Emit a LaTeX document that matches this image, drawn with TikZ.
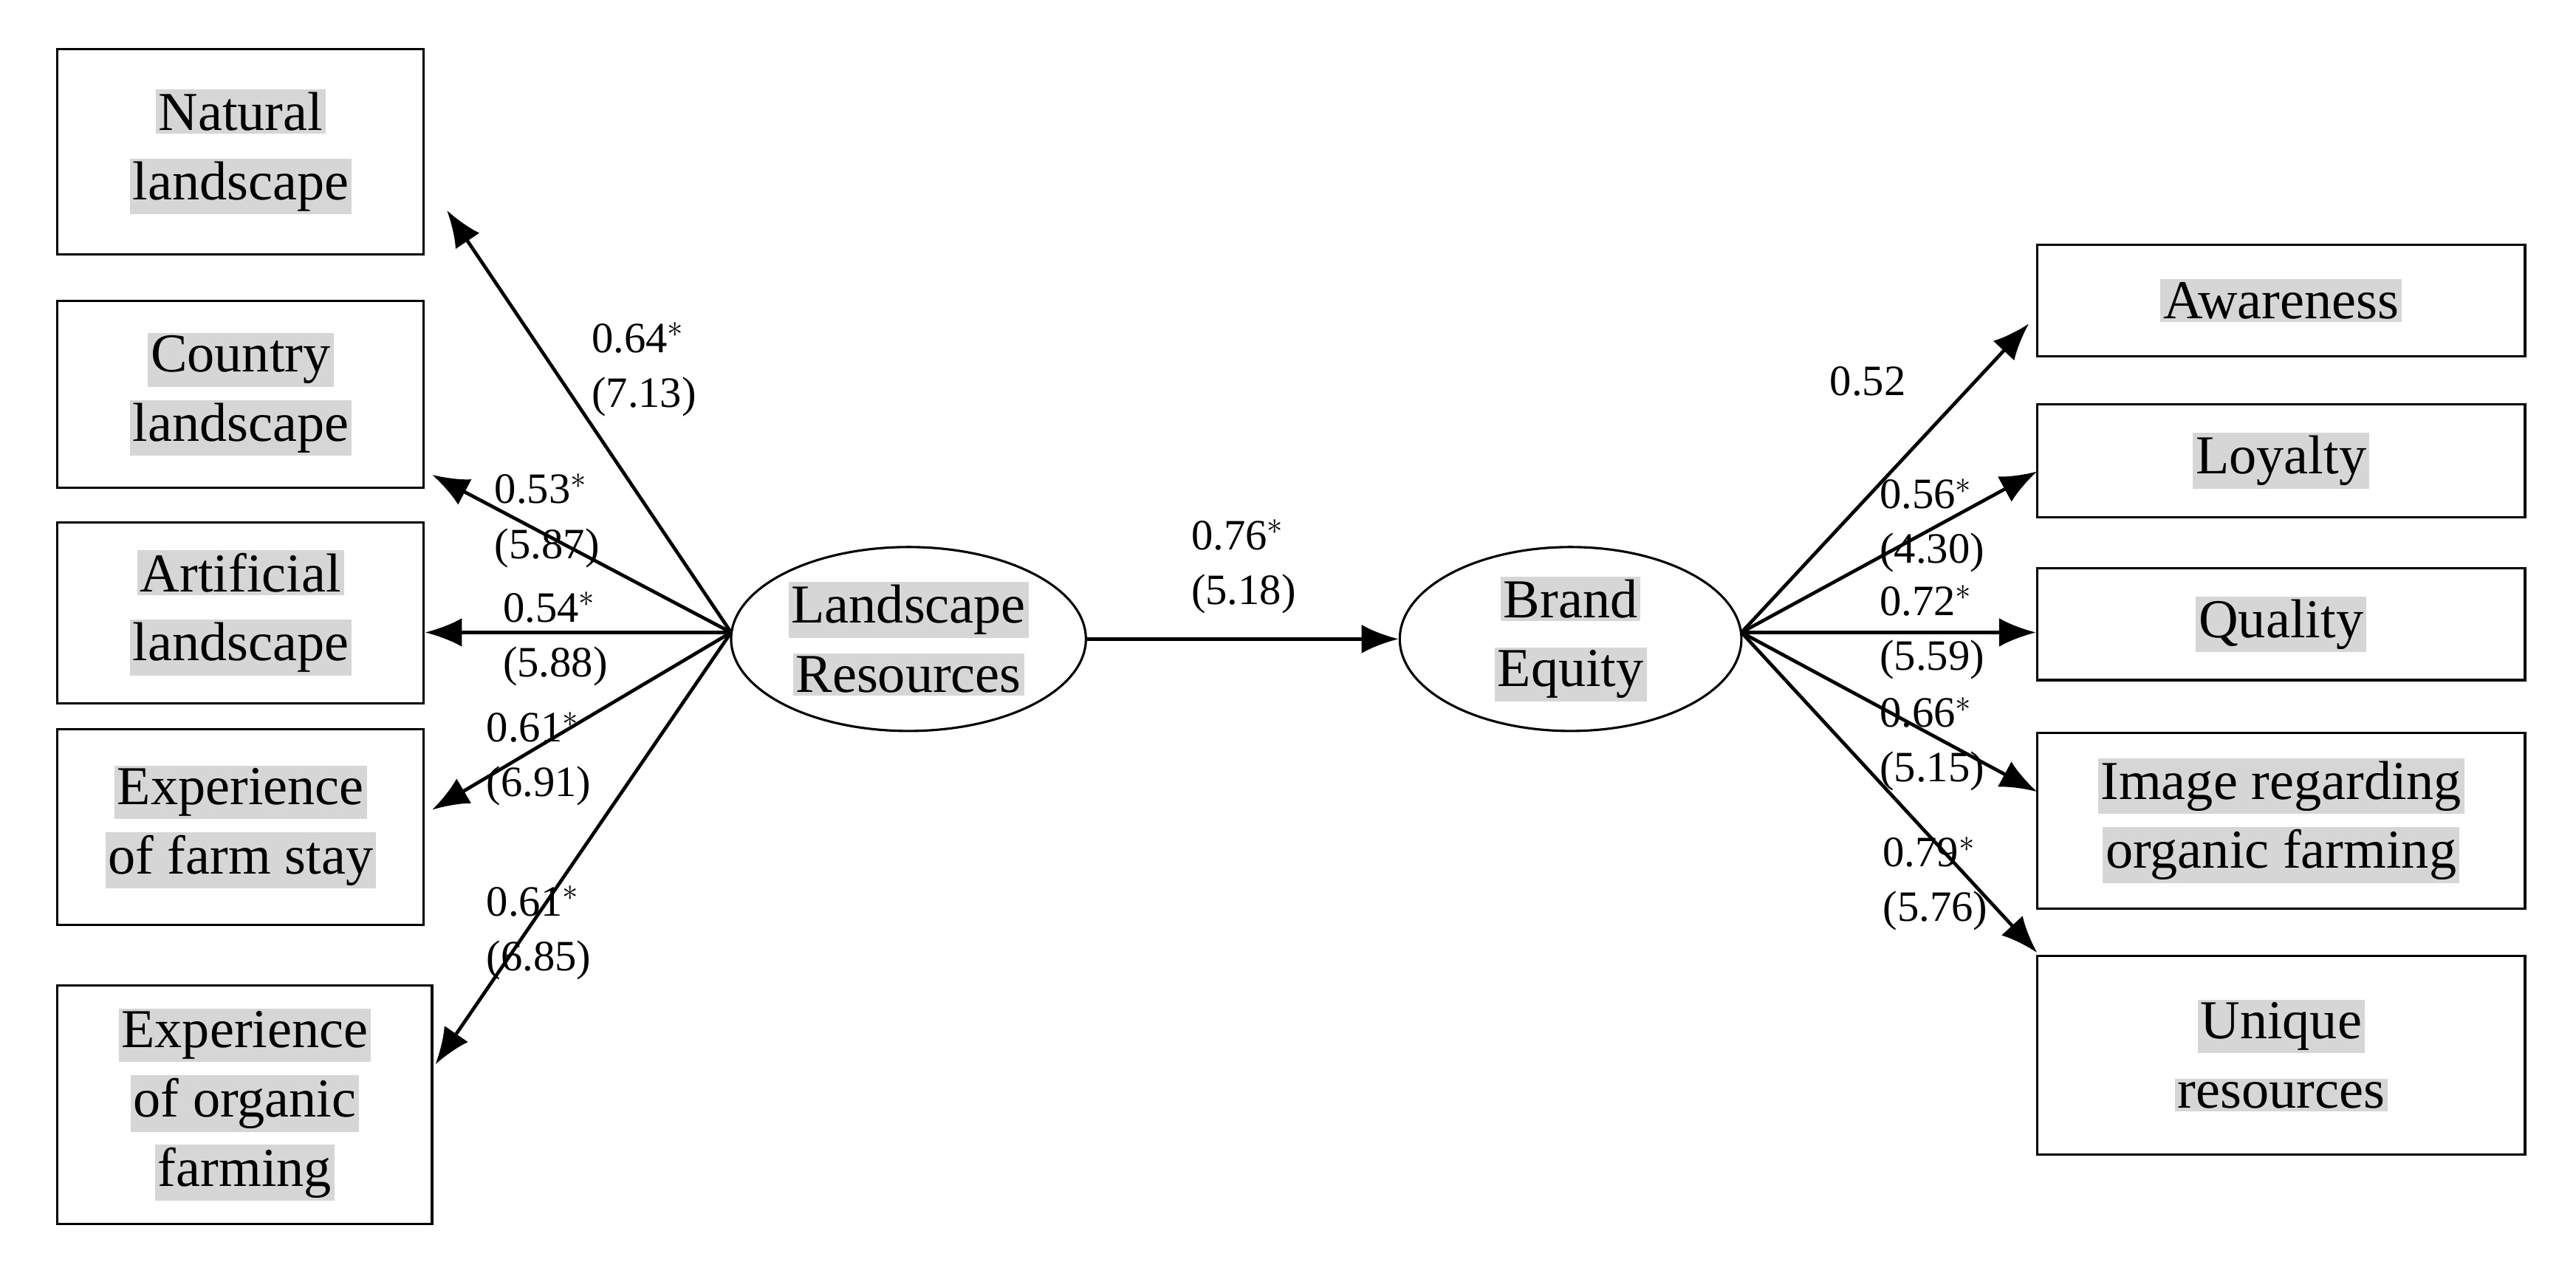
\documentclass[tikz,border=0pt]{standalone}
\usepackage{fontspec}
\setmainfont{Liberation Serif}
\usetikzlibrary{shapes.geometric,arrows.meta}
\definecolor{hlgray}{RGB}{214,214,214}
\newcommand{\hlt}[1]{{\setlength{\fboxsep}{1pt}\colorbox{hlgray}{#1}}}

\tikzset{
  itembox/.style = {draw=black, thick, rectangle, inner sep=0pt, align=center,
    font=\fontsize{19}{24}\selectfont},% boite indicateur
  latent/.style = {draw=black, thick, ellipse, inner sep=0pt, align=center,
    font=\fontsize{19}{24}\selectfont},% variable latente
  coef/.style = {align=left, inner sep=0pt, font=\fontsize{15}{19}\selectfont},% coefficient
  path_arr/.style = {-{Latex[length=4.5mm,width=3.5mm]}, very thick}
}

\begin{document}
\begin{tikzpicture}[x=0.02cm,y=-0.02cm]
  \useasboundingbox (0,0) rectangle (1568,768);
  % variables latentes
  \node [latent, minimum width=4.32cm, minimum height=2.24cm] (lr) at (553,389) {\hlt{Landscape}\\\hlt{Resources}};
  \node [latent, minimum width=4.16cm, minimum height=2.24cm] (be) at (956,389) {\hlt{Brand}\\\hlt{Equity}};
  % indicateurs gauche
  \node [itembox, minimum width=4.46cm, minimum height=2.5cm] (nat) at (146.5,92.5) {\hlt{Natural}\\\hlt{landscape}};
  \node [itembox, minimum width=4.46cm, minimum height=2.28cm] (cou) at (146.5,240) {\hlt{Country}\\\hlt{landscape}};
  \node [itembox, minimum width=4.46cm, minimum height=2.2cm] (art) at (146.5,373) {\hlt{Artificial}\\\hlt{landscape}};
  \node [itembox, minimum width=4.46cm, minimum height=2.38cm] (fst) at (146.5,503.5) {\hlt{Experience}\\\hlt{of farm stay}};
  \node [itembox, minimum width=4.56cm, minimum height=2.9cm] (org) at (149,672.5) {\hlt{Experience}\\\hlt{of organic}\\\hlt{farming}};
  % indicateurs droite
  \node [itembox, minimum width=5.94cm, minimum height=1.36cm] (awa) at (1388.5,183) {\hlt{Awareness}};
  \node [itembox, minimum width=5.94cm, minimum height=1.38cm] (loy) at (1388.5,280.5) {\hlt{Loyalty}};
  \node [itembox, minimum width=5.94cm, minimum height=1.36cm] (qua) at (1388.5,380) {\hlt{Quality}};
  \node [itembox, minimum width=5.94cm, minimum height=2.14cm] (ima) at (1388.5,499.5) {\hlt{Image regarding}\\\hlt{organic farming}};
  \node [itembox, minimum width=5.94cm, minimum height=2.42cm] (uni) at (1388.5,642.5) {\hlt{Unique}\\\hlt{resources}};
  % points d'ancrage
  \coordinate (lo) at (445,385);
  \coordinate (ro) at (1060,385);
  % fleches
  \draw [path_arr] (lo) -- (272,128);
  \draw [path_arr] (lo) -- (263,289);
  \draw [path_arr] (lo) -- (art.east |- lo);
  \draw [path_arr] (lo) -- (263,493);
  \draw [path_arr] (lo) -- (265,648);
  \draw [path_arr] (lr.east) -- (be.west);
  \draw [path_arr] (ro) -- (1235,197);
  \draw [path_arr] (ro) -- (1240,287);
  \draw [path_arr] (ro) -- (qua.west |- ro);
  \draw [path_arr] (ro) -- (1240,482);
  \draw [path_arr] (ro) -- (1240,580);
  % coefficients
  \node [coef] (c1) at (392,225) {0.64$^*$\\(7.13)};
  \node [coef] (c2) at (333,317) {0.53$^*$\\(5.87)};
  \node [coef] (c3) at (338,389) {0.54$^*$\\(5.88)};
  \node [coef] (c4) at (328,462) {0.61$^*$\\(6.91)};
  \node [coef] (c5) at (328,568) {0.61$^*$\\(6.85)};
  \node [coef] (c6) at (757,345) {0.76$^*$\\(5.18)};
  \node [coef] (c7) at (1137,232) {0.52};
  \node [coef] (c8) at (1176,320) {0.56$^*$\\(4.30)};
  \node [coef] (c9) at (1176,385) {0.72$^*$\\(5.59)};
  \node [coef] (c10) at (1176,453) {0.66$^*$\\(5.15)};
  \node [coef] (c11) at (1178,538) {0.79$^*$\\(5.76)};
\end{tikzpicture}
\end{document}
